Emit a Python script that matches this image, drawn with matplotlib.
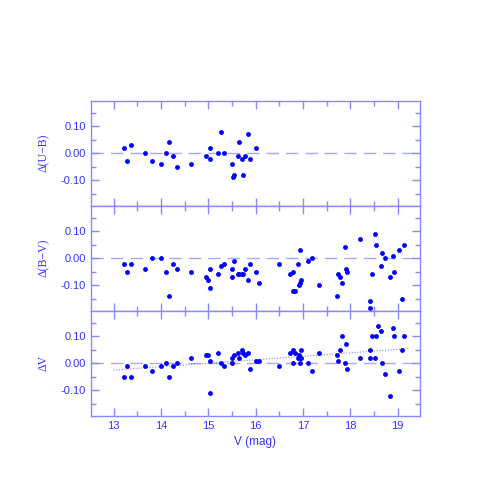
import numpy as np
import matplotlib.pyplot as plt
from matplotlib.ticker import MultipleLocator

# Delta(U-B) vs V
v_ub = [13.22, 13.28, 13.36, 13.67, 13.82, 14.01, 14.10, 14.17, 14.26, 14.34,
        14.64, 14.95, 15.03, 15.04, 15.21, 15.26, 15.33, 15.50, 15.52, 15.55,
        15.62, 15.66, 15.71, 15.73, 15.77, 15.83, 15.89, 16.00]
d_ub = [0.02, -0.03, 0.03, 0.00, -0.03, -0.04, 0.00, 0.04, -0.01, -0.05,
        -0.04, -0.01, -0.02, 0.02, 0.00, 0.08, 0.00, -0.04, -0.09, -0.08,
        -0.01, 0.04, -0.02, -0.08, -0.01, 0.07, -0.02, 0.02]

# Delta(B-V) vs V
v_bv = [13.22, 13.28, 13.36, 13.67, 13.82, 14.01, 14.10, 14.17, 14.26, 14.34,
        14.64, 14.95, 14.99, 15.03, 15.04, 15.21, 15.26, 15.33, 15.50, 15.50,
        15.55, 15.62, 15.66, 15.71, 15.73, 15.77, 15.83, 15.89, 16.00, 16.07,
        16.50, 16.73, 16.80, 16.80, 16.84, 16.89, 16.91, 16.93, 16.95, 16.94,
        17.10, 17.20, 17.34, 17.72, 17.75, 17.78, 17.83, 17.89, 17.92, 17.94,
        18.20, 18.42, 18.42, 18.47, 18.53, 18.55, 18.66, 18.68, 18.73, 18.85,
        18.91, 18.92, 19.03, 19.10, 19.13]
d_bv = [-0.02, -0.05, -0.02, -0.04, 0.00, 0.00, -0.05, -0.14, -0.02, -0.04,
        -0.05, -0.07, -0.08, -0.11, -0.04, -0.06, -0.03, -0.02, -0.04, -0.07,
        -0.01, -0.06, -0.06, -0.06, -0.06, -0.04, -0.08, -0.02, -0.05, -0.09,
        -0.02, -0.06, -0.05, -0.12, -0.12, -0.02, -0.10, -0.09, -0.08, 0.03,
        -0.01, 0.00, -0.10, -0.14, -0.06, -0.07, -0.09, 0.04, -0.04, -0.05,
        0.07, -0.16, -0.184, -0.06, 0.09, 0.05, -0.03, 0.02, 0.00, -0.07,
        0.01, -0.05, 0.03, -0.15, 0.05]

# Delta V vs V
v_v = [13.22, 13.28, 13.36, 13.67, 13.82, 14.01, 14.10, 14.17, 14.26, 14.34,
       14.64, 14.95, 14.99, 15.03, 15.04, 15.21, 15.26, 15.33, 15.50, 15.51,
       15.55, 15.62, 15.66, 15.71, 15.73, 15.77, 15.83, 15.89, 16.00, 16.07,
       16.50, 16.73, 16.80, 16.80, 16.84, 16.89, 16.91, 16.93, 16.95, 16.94,
       16.95, 17.10, 17.20, 17.34, 17.72, 17.75, 17.78, 17.83, 17.89, 17.92,
       17.94, 18.20, 18.42, 18.42, 18.47, 18.53, 18.55, 18.59, 18.66, 18.68,
       18.73, 18.85, 18.91, 18.92, 19.03, 19.10, 19.13]
d_v = [-0.05, -0.01, -0.05, -0.01, -0.03, -0.01, 0.00, -0.05, -0.01, 0.00,
       0.02, 0.03, 0.03, -0.11, 0.01, 0.04, 0.00, -0.01, 0.00, 0.02,
       0.03, 0.04, 0.02, 0.05, 0.04, 0.03, 0.04, -0.02, 0.01, 0.01,
       -0.01, 0.04, 0.05, 0.00, 0.04, 0.02, 0.03, 0.02, 0.05, 0.00,
       0.02, 0.00, -0.03, 0.04, 0.03, 0.01, 0.05, 0.10, 0.00, 0.07,
       -0.02, 0.02, 0.05, 0.02, 0.10, 0.02, 0.10, 0.14, 0.12, 0.00,
       -0.04, -0.12, 0.13, 0.10, -0.03, 0.05, 0.10]

# linear trend in Delta V
trend_x = [13.0, 19.25]
trend_y = [-0.025, 0.055]

ylabels = ["\u0394(U\u2212B)", "\u0394(B\u2212V)", "\u0394V"]

axcol = "#8888ff"
txtcol = "#3333ff"

plt.rcParams['font.family'] = ['Liberation Sans', 'DejaVu Sans']
fig = plt.figure(figsize=(4.91, 4.91), dpi=100)
left, right, bottom, top = 0.185, 0.855, 0.153, 0.795
h = (top - bottom) / 3
axes = []
for i in range(3):
    ax = fig.add_axes([left, top - (i + 1) * h, right - left, h])
    axes.append(ax)

data = [(v_ub, d_ub), (v_bv, d_bv), (v_v, d_v)]
for i, ax in enumerate(axes):
    xs, ys = data[i]
    ax.axhline(0, color="#a8a8ff", lw=1.0, ls=(0, (9, 5)), zorder=1)
    ax.plot(xs, ys, 'o', color="#0000ff", ms=3.5, mec='none', zorder=3)
    ax.set_xlim(12.52, 19.47)
    ax.set_ylim(-0.195, 0.195)
    ax.xaxis.set_major_locator(MultipleLocator(1))
    ax.xaxis.set_minor_locator(MultipleLocator(0.5))
    ax.yaxis.set_major_locator(MultipleLocator(0.1))
    ax.yaxis.set_minor_locator(MultipleLocator(0.05))
    ax.yaxis.set_major_formatter(lambda y, p: "%.2f" % y if abs(y) > 1e-9 else "0.00")
    ax.tick_params(which='both', direction='in', top=True, right=True,
                   color=axcol, labelcolor=txtcol, labelsize=8, width=1.0)
    ax.tick_params(which='major', length=6)
    ax.tick_params(which='minor', length=3.5)
    for s in ax.spines.values():
        s.set_color(axcol)
        s.set_linewidth(1.0)
    ax.set_ylabel(ylabels[i], family=['Liberation Serif', 'DejaVu Serif'],
                  color=txtcol, fontsize=8.5, labelpad=8)
    if i < 2:
        ax.tick_params(labelbottom=False)

axes[2].plot(trend_x, trend_y, ls=(0, (1, 1.5)), color="#8888dd", lw=0.8, zorder=2)
axes[2].set_xlabel("V (mag)", color=txtcol, fontsize=8.5)

fig.savefig("out.png", dpi=100)
